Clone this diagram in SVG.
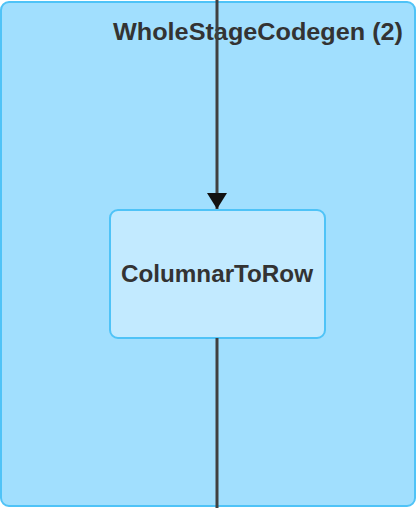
<svg xmlns="http://www.w3.org/2000/svg" width="416" height="508" viewBox="0 0 416 508">
  <defs>
    <marker id="arrow" viewBox="0 0 16 20" refX="16" refY="10" markerWidth="16" markerHeight="20" markerUnits="userSpaceOnUse" orient="auto">
      <path d="M0,0 L16,10 L0,20 z" fill="#111"/>
    </marker>
    <style>
      .cluster { fill: #a1dffe; stroke: #4fc3f7; stroke-width: 2; }
      .node { fill: #c2eaff; stroke: #4fc3f7; stroke-width: 2; }
      .label { font-family: "Liberation Sans", Arial, sans-serif; font-weight: bold; font-size: 23px; fill: #333; }
      .edge { stroke: #404040; stroke-width: 3; fill: none; }
    </style>
  </defs>
  <g id="cluster-wholestagecodegen-2">
    <rect class="cluster" x="1" y="2" width="414" height="504" rx="8"/>
    <text class="label" x="113" y="40" textLength="290" lengthAdjust="spacingAndGlyphs">WholeStageCodegen (2)</text>
  </g>
  <g id="node-columnartorow">
    <rect class="node" x="110" y="210" width="215" height="128" rx="8"/>
    <text class="label" x="121" y="282" textLength="192" lengthAdjust="spacingAndGlyphs">ColumnarToRow</text>
  </g>
  <g id="connectors">
    <path class="edge" d="M217,0 L217,209" marker-end="url(#arrow)"/>
    <path class="edge" d="M217,338 L217,508"/>
  </g>
</svg>
